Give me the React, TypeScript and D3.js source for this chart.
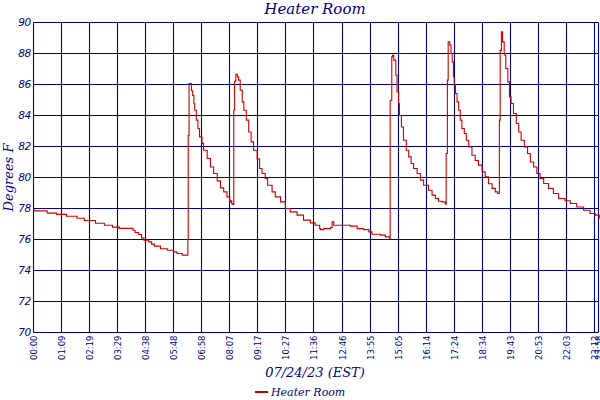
import { useMemo } from "react";
import * as d3 from "d3";

// Sample time in minutes from 00:00, temperature in °F
const TIMES = [
  0, 1, 34, 57, 82, 108, 126, 154, 176, 196, 213, 247, 252, 261, 268, 274, 286, 293, 300, 315, 332, 348, 356, 369,
  383, 384, 386, 392, 395, 398, 400, 404, 408, 412, 418, 422, 431, 439, 447, 456, 464, 472, 480, 487, 490, 492, 495,
  497, 499, 502, 506, 509, 513, 518, 522, 528, 534, 540, 546, 555, 561, 567, 575, 581, 592, 600, 613, 625, 637, 654,
  670, 687, 699, 710, 712, 720, 737, 741, 745, 770, 786, 803, 819, 832, 840, 861, 873, 884,
  885, 889, 891, 894, 899, 902, 906, 908, 913, 918, 925, 931, 937, 943, 952, 960, 968, 980, 989, 997, 1005, 1014, 1022,
  1024, 1027, 1029, 1033, 1036, 1039, 1042, 1044, 1047, 1051, 1055, 1059, 1063, 1069, 1074, 1080, 1088, 1096, 1104,
  1113, 1121, 1129, 1138, 1146, 1152,
  1156, 1158, 1161, 1164, 1168, 1172, 1177, 1181, 1185, 1191, 1198, 1204, 1210, 1218, 1226, 1233, 1241, 1249, 1257,
  1266, 1278, 1290, 1303, 1319, 1332, 1348, 1365, 1381, 1394, 1404,
];
const TEMPS = [
  77.9, 77.85, 77.7, 77.62, 77.5, 77.37, 77.23, 77.05, 76.92, 76.8, 76.72, 76.6, 76.45, 76.32, 76.1, 75.95, 75.85, 75.7,
  75.57, 75.4, 75.31, 75.2, 75.1, 74.99,
  76.0, 82.7, 86.06, 85.6, 85.3, 84.76, 84.34, 83.7, 83.16, 82.62, 82.2, 81.76, 81.23, 80.68, 80.26, 79.78, 79.33,
  79.07, 78.75, 78.43, 78.5, 78.3, 78.26,
  84.34, 86.2, 86.66, 86.49, 86.28, 85.63, 84.88, 84.34, 83.7, 82.94, 82.3, 81.76, 81.2, 80.58, 80.26, 79.94, 79.5,
  79.07, 78.75, 78.43, 78.0, 77.78, 77.57, 77.25, 77.07, 76.92, 76.7, 76.64, 76.7, 76.77, 77.14, 76.92, 76.92, 76.86,
  76.7, 76.64, 76.49, 76.34, 76.28, 76.17, 76.06,
  84.98, 87.78, 87.89, 87.57, 86.6, 85.52, 84.77, 84.0, 83.26, 82.4, 81.76, 81.33, 80.9, 80.58, 80.26, 79.83, 79.5,
  79.18, 78.86, 78.65, 78.47, 78.43, 78.28,
  81.55, 86.28, 88.75, 88.54, 88.0, 87.46, 86.5, 85.95, 85.42, 84.88, 84.34, 83.7, 83.16, 82.84, 82.4, 81.97, 81.44,
  81.1, 80.8, 80.36, 80.04, 79.6, 79.3, 79.07, 78.97,
  83.7, 88.2, 89.4, 88.75, 87.9, 87.03, 86.17, 85.2, 84.77, 84.13, 83.48, 82.94, 82.4, 81.97, 81.55, 81.0, 80.68,
  80.26, 79.94, 79.61, 79.29, 78.97, 78.65, 78.5, 78.32, 78.1, 77.89, 77.68, 77.57, 77.35,
];

const X_TICK_LABELS = [
  "00:00", "01:09", "02:19", "03:29", "04:38", "05:48", "06:58", "08:07", "09:17", "10:27", "11:36",
  "12:46", "13:55", "15:05", "16:14", "17:24", "18:34", "19:43", "20:53", "22:03", "23:12", "23:58",
];
const X_TICK_STEP = 69.6;
const X_END = 1402;
const Y_TICKS = [70, 72, 74, 76, 78, 80, 82, 84, 86, 88, 90];

const NAVY = "#000080";
const RED = "#cc0000";
const SERIF = "'DejaVu Serif', serif";
const SANS = "'DejaVu Sans', sans-serif";

export default function App() {
  const width = 600;
  const height = 400;
  const margin = { top: 22.5, right: 1.5, bottom: 67.5, left: 33.5 };
  const innerW = width - margin.left - margin.right;
  const innerH = height - margin.top - margin.bottom;

  const x = d3.scaleLinear().domain([0, X_END]).range([0, innerW]);
  const y = d3.scaleLinear().domain([70, 90]).range([innerH, 0]);

  const xTicks = X_TICK_LABELS.map((label, i) => ({
    label,
    value: i === X_TICK_LABELS.length - 1 ? X_END : i * X_TICK_STEP,
  }));

  const path = useMemo(() => {
    const pts = TIMES.map((t, i) => [t, TEMPS[i]] as [number, number]);
    return d3
      .line<[number, number]>()
      .x((d) => x(d[0]))
      .y((d) => y(d[1]))
      .curve(d3.curveStepAfter)(pts);
  }, []);

  return (
    <div style={{ position: "absolute", left: 0, top: 0 }}>
      <svg width={width} height={height} style={{ display: "block", background: "#fff" }}>
        <text x={315} y={14} textAnchor="middle" fill={NAVY} fontFamily={SERIF} fontStyle="italic" fontSize={15}>
          Heater Room
        </text>

        <g transform={`translate(${margin.left},${margin.top})`}>
          {/* horizontal grid + y labels */}
          {Y_TICKS.map((v) => (
            <g key={v}>
              <line x1={0} x2={innerW} y1={Math.round(y(v))} y2={Math.round(y(v))} stroke={NAVY} strokeWidth={1.1} />
              <text
                x={-3}
                y={y(v)}
                dy="0.35em"
                textAnchor="end"
                fill={NAVY}
                fontFamily={SANS}
                fontStyle="italic"
                fontSize={10.5}
                letterSpacing={-0.6}
              >
                {v}
              </text>
            </g>
          ))}

          {/* vertical grid + x labels */}
          {xTicks.map((t) => {
            const px = Math.round(x(t.value));
            return (
              <g key={t.label}>
                <line x1={px} x2={px} y1={0} y2={innerH} stroke={NAVY} strokeWidth={1.1} />
                <text
                  transform={`translate(${px + 3},${innerH + 3}) rotate(-90)`}
                  textAnchor="end"
                  fill={NAVY}
                  fontFamily={SANS}
                  fontSize={8.5}
                >
                  {t.label}
                </text>
              </g>
            );
          })}

          <path d={path ?? ""} fill="none" stroke={RED} strokeWidth={1.1} />
        </g>

        <text
          transform={`translate(13,${margin.top + innerH / 2}) rotate(-90)`}
          textAnchor="middle"
          fill={NAVY}
          fontFamily={SERIF}
          fontStyle="italic"
          fontSize={13}
        >
          Degrees F
        </text>

        <text x={315} y={377} textAnchor="middle" fill={NAVY} fontFamily={SERIF} fontStyle="italic" fontSize={13}>
          07/24/23 (EST)
        </text>

        <line x1={255} x2={268} y1={392} y2={392} stroke={RED} strokeWidth={2} />
        <text x={271} y={396} fill={NAVY} fontFamily={SERIF} fontStyle="italic" fontSize={11}>
          Heater Room
        </text>
      </svg>
    </div>
  );
}
